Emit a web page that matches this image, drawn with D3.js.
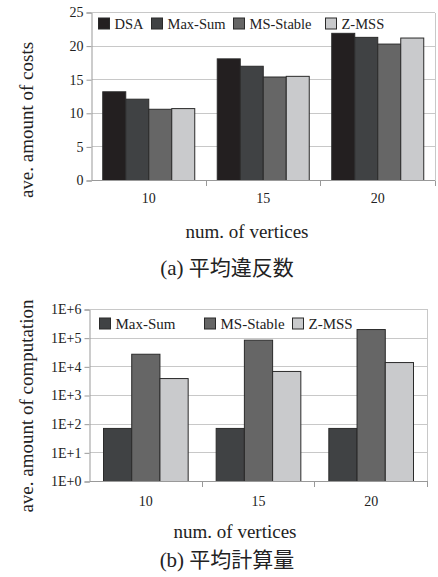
<!DOCTYPE html>
<html><head><meta charset="utf-8">
<script src="https://cdn.jsdelivr.net/npm/d3@7"></script>
<style>
body{margin:0;background:#fff;}
text{font-family:"Liberation Serif","Tinos","Times New Roman","DejaVu Serif","Noto Sans CJK JP",serif;fill:#222;}
</style></head>
<body><svg id="c" width="438" height="577"></svg>
<script>
// ---- data ----
const categories = ["10", "15", "20"];
const costSeries = ["DSA", "Max-Sum", "MS-Stable", "Z-MSS"];
const costDSA      = [13.2, 18.1, 21.9];
const costMaxSum   = [12.1, 17.0, 21.3];
const costMSStable = [10.6, 15.4, 20.3];
const costZMSS     = [10.7, 15.5, 21.2];
const costTicks = [0, 5, 10, 15, 20, 25];

const compSeries = ["Max-Sum", "MS-Stable", "Z-MSS"];
const compMaxSum   = [71, 71, 71];
const compMSStable = [27500, 85000, 200000];
const compZMSS     = [3900, 6900, 14100];
const compTicks = [1, 10, 100, 1000, 10000, 100000, 1000000];

const colors = {"DSA":"#231f20","Max-Sum":"#404244","MS-Stable":"#666666","Z-MSS":"#c9cacc"};

const svg = d3.select("#c");

function drawChart(cfg){
  const g = svg.append("g");
  const x0 = d3.scaleBand().domain(categories).range([cfg.left, cfg.right]).padding(0);
  const x1 = d3.scaleBand().domain(cfg.series)
      .range([cfg.groupPad, x0.bandwidth() - cfg.groupPad]).padding(0);
  const y = cfg.y;

  g.append("g").selectAll("line").data(cfg.ticks).join("line")
    .attr("x1", cfg.left).attr("x2", cfg.right)
    .attr("y1", d => y(d)).attr("y2", d => y(d))
    .attr("stroke", "#c8c8c8").attr("stroke-width", 1).attr("shape-rendering","crispEdges");
  g.append("line").attr("x1", cfg.right).attr("x2", cfg.right)
    .attr("y1", y(cfg.ticks[cfg.ticks.length-1])).attr("y2", y(cfg.ticks[0]))
    .attr("stroke", "#c8c8c8").attr("shape-rendering","crispEdges");

  const rows = categories.map((c, i) => ({cat: c, vals: cfg.series.map((s, j) => ({s, v: cfg.values[j][i]}))}));
  g.append("g").selectAll("g").data(rows).join("g")
    .attr("transform", d => `translate(${x0(d.cat)},0)`)
    .selectAll("rect").data(d => d.vals).join("rect")
      .attr("x", d => x1(d.s)).attr("width", x1.bandwidth())
      .attr("y", d => y(d.v)).attr("height", d => y(cfg.base) - y(d.v))
      .attr("fill", d => colors[d.s]).attr("stroke", "#2a2a2a").attr("stroke-width", 1);

  const ya = g.append("g").attr("transform", `translate(${cfg.left},0)`)
    .call(d3.axisLeft(y).tickValues(cfg.ticks).tickFormat(cfg.fmt).tickSize(5).tickPadding(3));
  ya.attr("font-family", null);
  ya.select(".domain").attr("stroke", "#999");
  ya.selectAll(".tick line").attr("stroke", "#999");
  ya.selectAll(".tick text").attr("font-size", 14).attr("fill", "#222");

  const xa = g.append("g").attr("transform", `translate(0,${y(cfg.base)})`);
  xa.append("line").attr("x1", cfg.left).attr("x2", cfg.right).attr("stroke", "#999").attr("shape-rendering","crispEdges");
  xa.selectAll("line.t").data(categories).join("line").attr("class","t")
    .attr("x1", d => x0(d) + x0.bandwidth()).attr("x2", d => x0(d) + x0.bandwidth())
    .attr("y1", 0).attr("y2", 5).attr("stroke", "#999").attr("shape-rendering","crispEdges");
  xa.selectAll("text").data(categories).join("text")
    .attr("x", d => x0(d) + x0.bandwidth()/2).attr("y", cfg.xLabelDy)
    .attr("text-anchor", "middle").attr("font-size", 14).text(d => d);

  g.append("text").attr("transform", `translate(${cfg.yTitleX},${cfg.yTitleY}) rotate(-90)`)
    .attr("text-anchor","middle").attr("font-size", 19).text(cfg.yTitle);
  g.append("text").attr("x", cfg.xTitleX).attr("y", cfg.xTitleY)
    .attr("text-anchor","middle").attr("font-size", 19).text("num. of vertices");
  g.append("text").attr("x", cfg.capX).attr("y", cfg.capY)
    .attr("text-anchor","middle").attr("font-size", 21).text(cfg.caption);

  const lg = g.append("g").selectAll("g").data(cfg.series).join("g")
    .attr("transform", (d, i) => `translate(${cfg.legX[i]},${cfg.legY})`);
  lg.append("rect").attr("x", 0).attr("y", 0).attr("width", cfg.legSq).attr("height", cfg.legSq)
    .attr("fill", d => colors[d]).attr("stroke", "#2a2a2a").attr("stroke-width", 1);
  lg.append("text").attr("x", cfg.legSq + 5).attr("y", cfg.legSq).attr("font-size", cfg.legFont).text(d => d);
}

drawChart({
  left: 91.5, right: 435, groupPad: 11.25,
  series: costSeries, values: [costDSA, costMaxSum, costMSStable, costZMSS],
  y: d3.scaleLinear().domain([0, 25]).range([180.5, 12.5]),
  base: 0, ticks: costTicks, fmt: d3.format("d"),
  xLabelDy: 22,
  yTitle: "ave. amount of costs", yTitleX: 33, yTitleY: 120,
  xTitleX: 247, xTitleY: 238,
  caption: "(a) 平均違反数", capX: 227, capY: 275,
  legX: [98.5, 151.5, 233.5, 325.5], legY: 18, legSq: 11, legFont: 14.5
});

drawChart({
  left: 89.5, right: 427.5, groupPad: 14,
  series: compSeries, values: [compMaxSum, compMSStable, compZMSS],
  y: d3.scaleLog().domain([1, 1e6]).range([481.5, 309.5]),
  base: 1, ticks: compTicks, fmt: d => "1E+" + Math.round(Math.log10(d)),
  xLabelDy: 24,
  yTitle: "ave. amount of computation", yTitleX: 33, yTitleY: 406,
  xTitleX: 235, xTitleY: 538,
  caption: "(b) 平均計算量", capX: 227, capY: 567,
  legX: [99.5, 204.5, 292.5], legY: 318, legSq: 11, legFont: 15
});
</script></body></html>
